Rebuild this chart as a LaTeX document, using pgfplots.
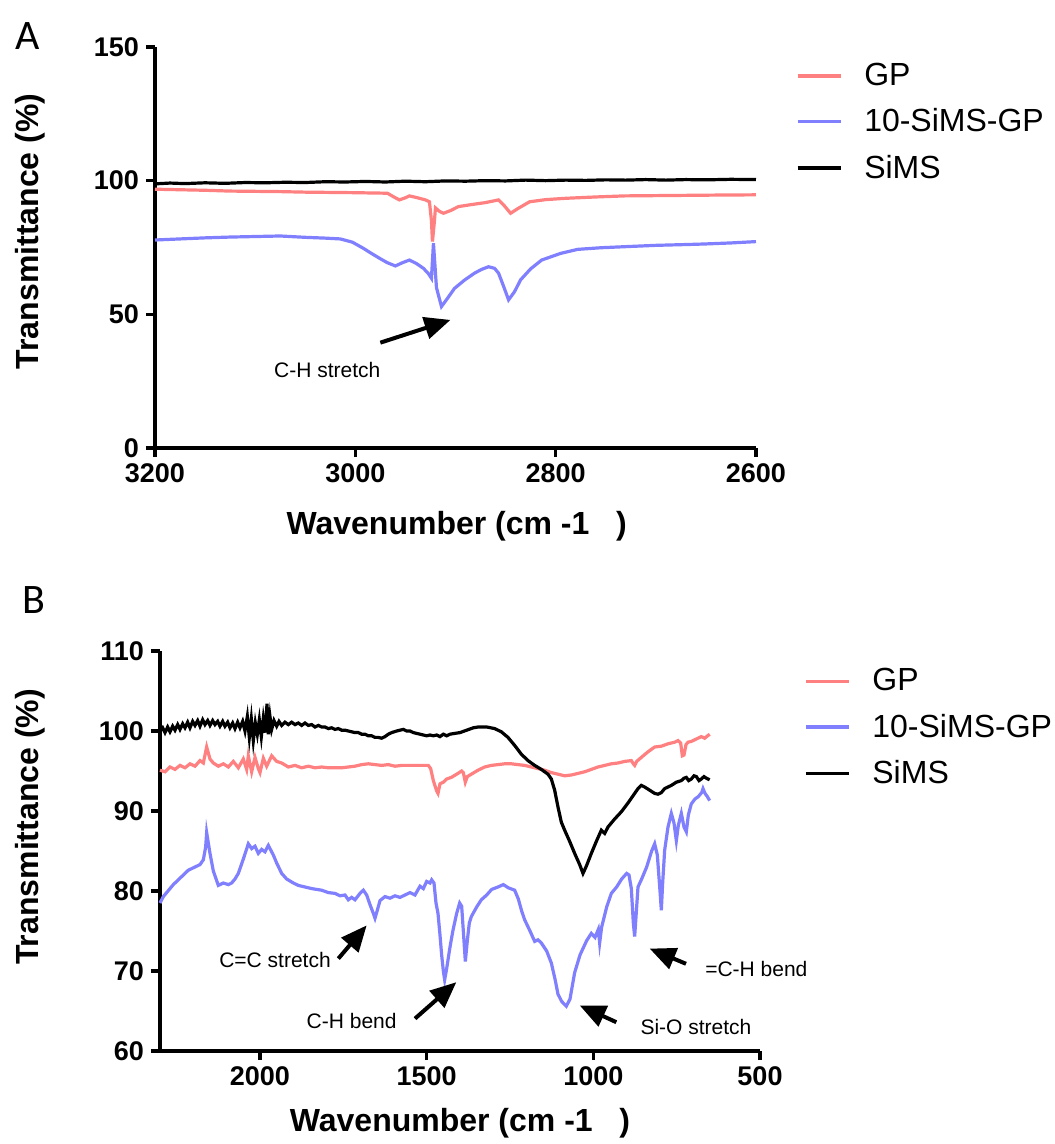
\documentclass[border=0pt]{standalone}
\usepackage{pgfplots}
\pgfplotsset{compat=1.18}
\usepackage{fontspec}
\setmainfont{Liberation Sans}
\newfontfamily\carl{Carlito}
\usetikzlibrary{arrows.meta}
\definecolor{gpred}{RGB}{255,128,128}
\definecolor{sibl}{RGB}{128,128,255}
\pgfplotsset{
  ftir/.style={
    scale only axis,
    width=300pt, height=200pt,
    axis x line*=bottom, axis y line*=left,
    axis line style={line width=1.8pt},
    x dir=reverse,
    tick align=outside,
    major tick length=4.5pt,
    every tick/.style={line width=1.6pt, black},
    /pgf/number format/assume math mode=true,
    /pgf/number format/set thousands separator={},
    ticklabel style={font=\fontsize{13.5}{16}\bfseries\selectfont},
    label style={font=\fontsize{16}{19}\bfseries\selectfont},
    xlabel={Wavenumber (cm -1 \ \ )},
    ylabel={Transmittance (\%)},
    clip=false,
    legend cell align=left,
    legend image code/.code={\draw[#1] (0pt,0pt) -- (21.5pt,0pt);},
    legend style={draw=none, fill=none, font=\fontsize{16}{19}\selectfont,
      row sep=8pt,
      nodes={inner sep=1pt},
      /tikz/every odd column/.append style={column sep=10pt}},
    every axis plot/.append style={line width=1.6pt},
  }
}
\begin{document}
\begin{tikzpicture}
\useasboundingbox (0,0) rectangle (527pt,572pt);
% ---------------- Panel A
\begin{axis}[ftir,
  at={(77.5pt,348pt)}, anchor=south west,
  width=300.5pt, height=200.5pt,
  xmin=2600, xmax=3200, ymin=0, ymax=150,
  xtick={3200,3000,2800,2600}, ytick={0,50,100,150},
  xlabel style={at={(axis description cs:0.502,-0.195)}, anchor=center},
  ylabel style={at={(axis description cs:-0.208,0.54)}, anchor=center},
  legend style={at={(rel axis cs:1.056,0.975)}, anchor=north west},
]
\addplot[gpred] coordinates {
(3200,96.8) (3175,96.6) (3150,96.4) (3125,96.1) (3100,96.0) (3075,95.9) (3050,95.7)
(3025,95.6) (3000,95.5) (2985,95.4) (2968,95.3) (2962,94.0) (2956,92.8) (2950,93.6)
(2946,94.3) (2938,93.6) (2930,92.8) (2926,92.1) (2924,85.0) (2923,77.2) (2921,85.0)
(2920,89.8) (2916,88.5) (2912,87.8) (2905,88.8) (2897,90.3) (2885,91.0) (2870,91.8)
(2857,92.8) (2851,90.5) (2845,87.8) (2838,89.5) (2826,92.1) (2810,92.9) (2790,93.4)
(2760,93.9) (2731,94.3) (2700,94.4) (2670,94.5) (2640,94.6) (2600,94.7)};
\addlegendentry{GP}
\addplot[sibl] coordinates {
(3200,77.8) (3175,78.2) (3150,78.6) (3125,78.9) (3100,79.1) (3075,79.3) (3050,78.8)
(3030,78.5) (3015,78.2) (3003,77.0) (2992,74.7) (2984,72.8) (2976,71.0) (2968,69.3)
(2960,68.1) (2953,69.3) (2946,70.3) (2939,69.0) (2932,67.2) (2927,65.2) (2924,63.5)
(2922,76.6) (2919,60.0) (2914,52.9) (2907,56.5) (2901,59.7) (2891,62.8) (2881,65.4)
(2874,66.8) (2867,67.8) (2861,67.2) (2857,65.4) (2852,60.5) (2847,55.4) (2841,58.5)
(2835,62.9) (2825,67.0) (2814,70.3) (2795,72.8) (2778,74.3) (2755,74.9) (2731,75.3)
(2700,75.8) (2670,76.1) (2652,76.3) (2625,76.7) (2600,77.2)};
\addlegendentry{10-SiMS-GP}
\addplot[black] coordinates {
(3200,98.8) (3185,99.1) (3170,98.9) (3150,99.2) (3130,99.0) (3110,99.3) (3090,99.2)
(3070,99.4) (3050,99.3) (3030,99.6) (3010,99.5) (2990,99.7) (2970,99.5) (2950,99.8)
(2930,99.6) (2910,99.9) (2890,99.8) (2870,100.0) (2850,99.9) (2830,100.2) (2810,100.0)
(2790,100.2) (2770,100.1) (2750,100.3) (2730,100.2) (2710,100.4) (2690,100.2)
(2670,100.4) (2650,100.3) (2625,100.5) (2600,100.4)};
\addlegendentry{SiMS}
\draw[line width=2pt, -{Triangle[length=13pt,width=11pt]}]
  (axis cs:2975,39.4) -- (axis cs:2905,47.9);
\node[font=\fontsize{10.5}{12}\selectfont] at (axis cs:3028,29.2) {C-H stretch};
\end{axis}
\node[font=\carl\fontsize{21}{24}\selectfont, anchor=center] at (14pt,554pt) {A};
% ---------------- Panel B
\begin{axis}[ftir,
  at={(80pt,46.5pt)}, anchor=south west,
  xmin=500, xmax=2300, ymin=60, ymax=110,
  xtick={2000,1500,1000,500}, ytick={60,70,80,90,100,110},
  xlabel style={at={(axis description cs:0.5,-0.18)}, anchor=center},
  ylabel style={at={(axis description cs:-0.216,0.56)}, anchor=center},
  legend style={at={(rel axis cs:1.063,0.972)}, anchor=north west},
]
\addplot[gpred] coordinates {
(2300,95.1) (2285,94.9) (2270,95.5) (2255,95.2) (2240,95.7) (2225,95.4) (2210,95.9)
(2195,95.6) (2180,96.3) (2170,96.0) (2160,98.0) (2150,96.5) (2140,96.0) (2125,95.6)
(2110,95.9) (2095,95.5) (2080,96.2) (2065,95.4) (2050,96.5) (2040,95.2) (2035,96.9)
(2025,94.9) (2015,96.7) (2005,95.3) (2000,94.8) (1990,96.6) (1980,95.6) (1965,96.9)
(1950,96.2) (1935,96.0) (1915,95.5) (1895,95.7) (1875,95.4) (1855,95.6) (1835,95.4)
(1815,95.5) (1795,95.4) (1775,95.4) (1755,95.4) (1735,95.5) (1715,95.6) (1695,95.8)
(1675,95.9) (1655,95.8) (1635,95.7) (1615,95.8) (1595,95.6) (1575,95.7) (1555,95.7)
(1535,95.7) (1515,95.7) (1495,95.7) (1488,95.3) (1480,93.8) (1470,92.5) (1466,92.2)
(1460,93.4) (1450,93.6) (1440,94.0) (1426,94.2) (1410,94.6) (1395,95.0) (1390,94.8)
(1384,93.6) (1378,94.3) (1366,94.6) (1346,95.1) (1326,95.5) (1306,95.7) (1286,95.8)
(1266,95.9) (1246,95.9) (1226,95.8) (1206,95.7) (1186,95.5) (1166,95.3) (1146,95.1)
(1126,94.8) (1106,94.6) (1086,94.4) (1066,94.5) (1046,94.7) (1026,94.9) (1006,95.2)
(986,95.5) (966,95.7) (946,95.9) (926,96.0) (906,96.2) (886,96.3) (880,95.9) (876,95.7)
(870,96.2) (856,96.7) (836,97.4) (816,98.0) (796,98.1) (776,98.4) (756,98.6) (746,98.8)
(738,98.5) (733,96.9) (728,97.0) (722,98.3) (716,98.6) (706,98.7) (691,99.0) (676,99.3)
(666,99.1) (651,99.6)};
\addlegendentry{GP}
\addplot[sibl] coordinates {
(2300,78.5) (2290,79.3) (2280,79.8) (2270,80.3) (2260,80.8) (2245,81.4) (2230,82.0)
(2215,82.6) (2195,83.0) (2180,83.3) (2170,83.9) (2163,85.5) (2160,87.3) (2155,86.0)
(2150,84.7) (2140,82.5) (2125,80.7) (2110,81.0) (2095,80.8) (2085,81.0) (2075,81.5)
(2065,82.2) (2050,84.0) (2035,85.9) (2025,85.3) (2015,85.6) (2005,84.7) (1995,85.2)
(1985,84.9) (1975,85.7) (1960,84.5) (1950,83.5) (1935,82.2) (1920,81.5) (1900,81.0)
(1885,80.7) (1865,80.5) (1845,80.3) (1830,80.2) (1815,80.1) (1795,79.8) (1775,79.7)
(1760,79.4) (1745,79.5) (1735,78.9) (1725,79.2) (1715,78.9) (1700,79.7) (1690,80.1)
(1680,79.5) (1670,78.3) (1660,77.2) (1655,76.6) (1648,77.6) (1640,78.8) (1625,79.3)
(1610,79.1) (1595,79.4) (1580,79.2) (1565,79.5) (1550,79.8) (1535,79.5) (1520,80.6)
(1510,80.3) (1500,81.2) (1490,81.0) (1485,81.4) (1478,81.0) (1472,78.5) (1466,77.2)
(1460,74.5) (1455,72.0) (1450,70.0) (1446,68.9) (1440,70.3) (1430,73.0) (1421,75.1)
(1410,77.2) (1401,78.5) (1395,78.1) (1390,75.0) (1384,71.2) (1378,73.8) (1372,76.0)
(1366,76.8) (1350,78.0) (1336,78.9) (1320,79.5) (1305,80.2) (1286,80.5) (1270,80.8)
(1255,80.4) (1236,80.1) (1225,79.0) (1215,77.5) (1206,76.4) (1190,75.0) (1176,73.7)
(1166,73.9) (1156,73.5) (1140,72.5) (1126,71.0) (1115,69.0) (1106,67.1) (1095,66.2)
(1081,65.6) (1070,66.5) (1056,69.8) (1040,72.0) (1020,73.8) (1006,74.7) (995,74.2)
(985,75.2) (981,73.5) (975,75.5) (960,78.0) (946,79.7) (930,80.5) (915,81.5) (900,82.2)
(893,82.0) (886,80.3) (880,76.0) (876,74.3) (870,78.0) (866,80.5) (855,81.5) (840,83.0)
(825,85.0) (816,85.9) (808,84.5) (800,80.0) (796,77.6) (792,81.0) (786,85.1) (776,88.0)
(766,89.7) (758,88.5) (751,86.3) (745,88.2) (736,89.7) (728,88.0) (721,87.4) (715,89.5)
(706,90.9) (695,91.5) (685,91.8) (675,92.3) (671,92.8) (665,92.2) (658,91.8) (651,91.3)};
\addlegendentry{10-SiMS-GP}
\addplot[black] coordinates {
(2300,100.0) (2292,100.4) (2285,99.8) (2277,100.5) (2270,99.9) (2262,100.6) (2255,100.1)
(2247,100.8) (2240,100.2) (2232,100.9) (2225,100.4) (2217,101.1) (2210,100.4)
(2202,101.2) (2195,100.7) (2187,101.3) (2180,100.6) (2172,101.4) (2165,100.8)
(2157,101.3) (2150,100.7) (2142,101.3) (2135,100.8) (2127,101.2) (2120,100.6)
(2112,101.2) (2105,100.6) (2097,101.1) (2090,100.4) (2082,101.0) (2075,100.3)
(2067,101.1) (2060,100.4) (2052,101.2) (2045,100.0) (2038,101.8) (2032,99.2)
(2026,101.5) (2020,98.8) (2014,101.0) (2008,99.6) (2002,101.4) (1996,99.3) (1990,101.6)
(1984,99.8) (1979,103.4) (1975,99.6) (1970,101.8) (1965,100.2) (1958,101.3)
(1950,100.6) (1943,101.2) (1935,100.7) (1925,101.1) (1915,100.8) (1905,101.1)
(1895,100.8) (1885,101.0) (1875,100.7) (1865,101.0) (1855,100.7) (1845,100.8)
(1835,100.5) (1825,100.7) (1815,100.5) (1805,100.5) (1795,100.3) (1785,100.4)
(1775,100.2) (1765,100.3) (1755,100.1) (1745,100.1) (1735,100.0) (1725,99.9)
(1715,99.8) (1705,99.8) (1695,99.6) (1685,99.6) (1675,99.4) (1665,99.4) (1655,99.2)
(1645,99.2) (1635,99.1) (1625,99.3) (1615,99.6) (1605,99.8) (1590,100.0) (1580,100.1)
(1570,100.2) (1560,100.0) (1550,100.0) (1540,99.8) (1530,99.7) (1520,99.6) (1510,99.5)
(1500,99.4) (1490,99.5) (1480,99.4) (1470,99.5) (1460,99.3) (1450,99.6) (1440,99.4)
(1430,99.6) (1416,99.7) (1400,99.8) (1380,100.1) (1360,100.4) (1346,100.5) (1320,100.5)
(1296,100.3) (1276,99.9) (1256,99.2) (1236,98.2) (1216,97.1) (1196,96.3) (1176,95.7)
(1156,95.2) (1136,94.6) (1126,94.0) (1116,92.6) (1106,90.5) (1096,88.6) (1086,87.6)
(1071,86.2) (1056,84.7) (1041,83.3) (1031,82.2) (1021,83.1) (1006,84.7) (991,86.2)
(976,87.6) (966,87.2) (956,88.0) (936,89.0) (916,89.9) (896,91.0) (876,92.2) (866,92.8)
(856,93.2) (846,93.0) (831,92.6) (816,92.2) (806,92.1) (796,92.3) (786,92.8) (776,93.0)
(766,93.2) (751,93.6) (736,93.8) (728,94.1) (721,94.2) (714,93.8) (706,94.0) (698,94.4)
(691,94.3) (683,93.8) (676,94.0) (668,94.3) (661,94.1) (651,93.9)};
\addlegendentry{SiMS}
\tikzset{annarrow/.style={line width=2pt, -{Triangle[length=13pt,width=11pt]}}}
\draw[annarrow] (axis cs:1765,71.55) -- (axis cs:1680,75.7);
\node[font=\fontsize{10.5}{12}\selectfont] at (axis cs:1955,71.4) {C=C stretch};
\draw[annarrow] (axis cs:1535,64.05) -- (axis cs:1411,68.6);
\node[font=\fontsize{10.5}{12}\selectfont] at (axis cs:1725,63.8) {C-H bend};
\draw[annarrow] (axis cs:931,63.6) -- (axis cs:1041,65.7);
\node[font=\fontsize{10.5}{12}\selectfont] at (axis cs:692,63.0) {Si-O stretch};
\draw[annarrow] (axis cs:722,70.9) -- (axis cs:831,72.8);
\node[font=\fontsize{10.5}{12}\selectfont] at (axis cs:511,70.3) {=C-H bend};
\end{axis}
\node[font=\carl\fontsize{21}{24}\selectfont, anchor=center] at (17pt,272pt) {B};
\end{tikzpicture}
\end{document}
